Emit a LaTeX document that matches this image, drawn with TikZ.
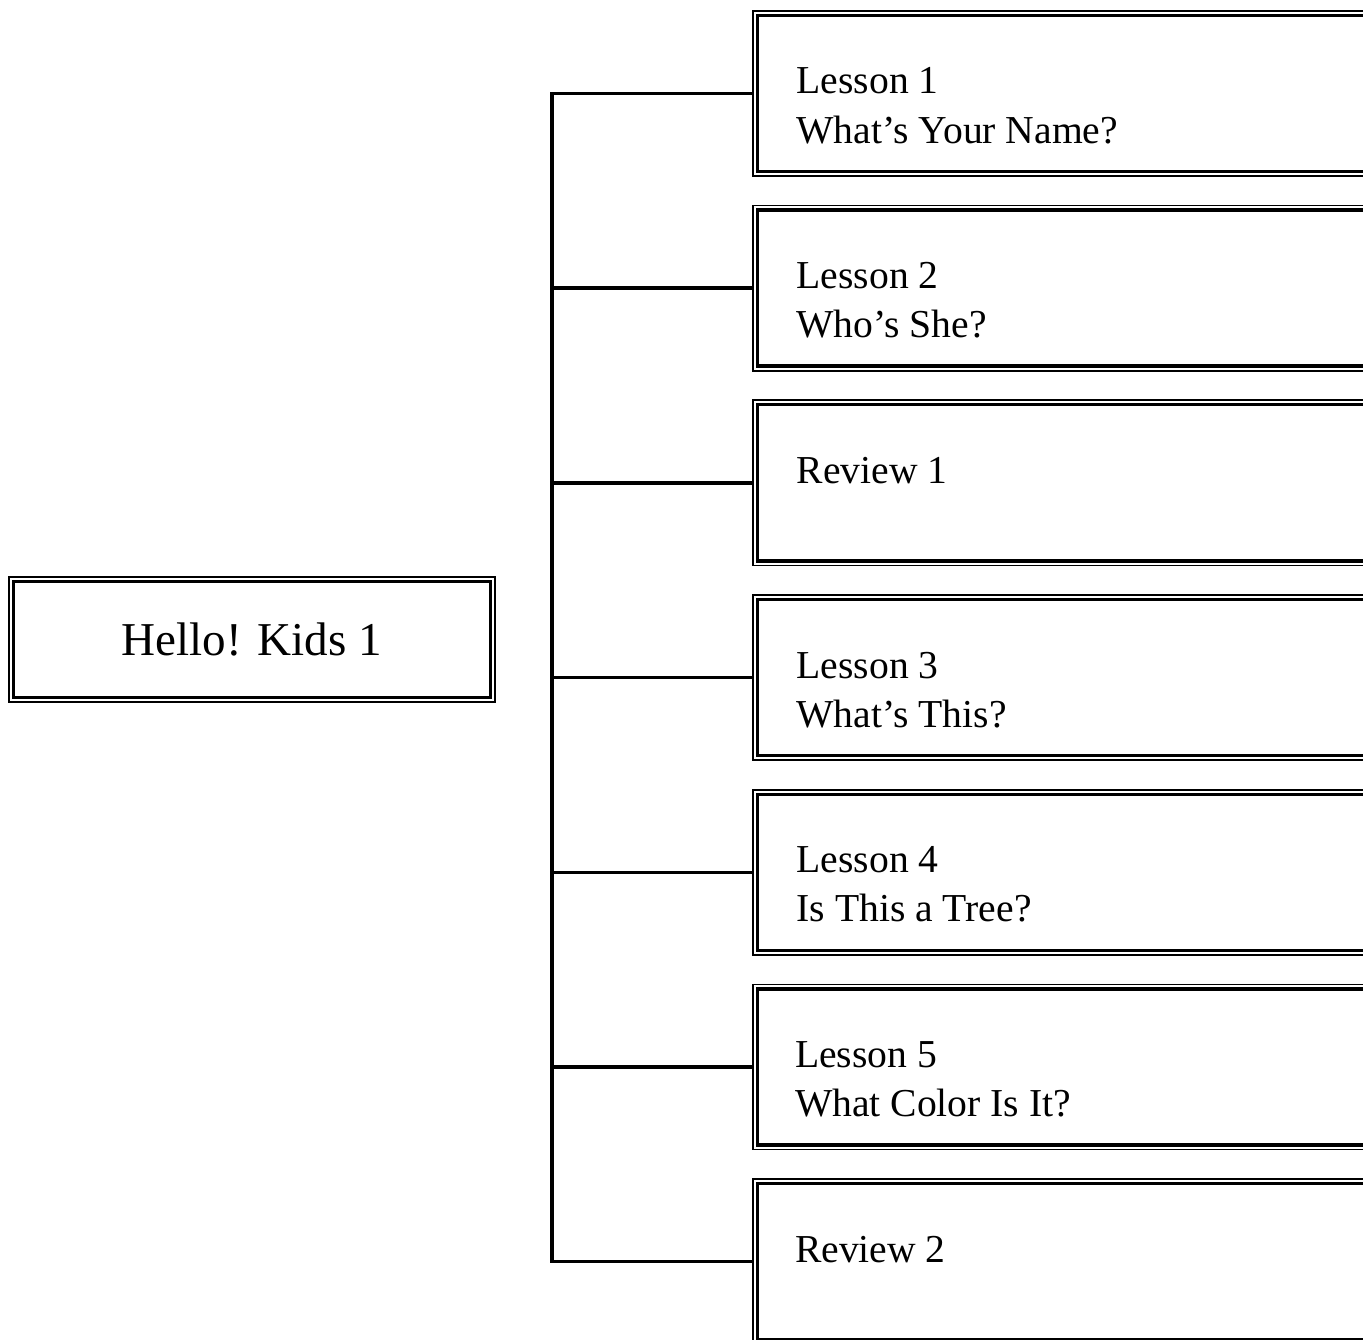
\documentclass[tikz,border=0pt]{standalone}
\usepackage{fontspec}
\setmainfont{Liberation Serif}
\usetikzlibrary{positioning}

\tikzset{
  frame/.style={fill=white, draw, line width=1.1pt, inner sep=0pt, outer sep=0pt,
    preaction={draw, line width=3.6pt},
    preaction={draw=white, line width=2.5pt}},
  rootbox/.style={frame, minimum width=159pt, minimum height=38.7pt,
    font=\fontsize{15.7pt}{19pt}\selectfont},
  unitbox/.style={frame, minimum width=221pt, minimum height=52pt},
  unittext/.style={anchor=base west, inner sep=0pt,
    font=\fontsize{13.2pt}{16.3pt}\selectfont},
  link/.style={line width=1.15pt, shorten >=1.8pt}
}

\begin{document}
\begin{tikzpicture}[x=0.3333pt, y=-0.3333pt, node distance=12.9pt]
\useasboundingbox (0,0) rectangle (1363,1340);
\clip (0,0) rectangle (1363,1340);

\node[rootbox] (root) at (252,639.5) {Hello! Kids 1};

% units
\node[unitbox, anchor=north west] (u1) at (757.4,15.4) {};
\node[unitbox, below=of u1] (u2) {};
\node[unitbox, below=of u2] (u3) {};
\node[unitbox, below=of u3] (u4) {};
\node[unitbox, below=of u4] (u5) {};
\node[unitbox, below=of u5] (u6) {};
\node[unitbox, below=of u6] (u7) {};

\node[unittext] (h1) at ([shift={(38.6,78.6)}]u1.north west) {Lesson 1};
\node[unittext] (s1) at ([shift={(0,49)}]h1.base west) {What’s Your Name?};
\node[unittext] (h2) at ([shift={(38.6,78.6)}]u2.north west) {Lesson 2};
\node[unittext] (s2) at ([shift={(0,49)}]h2.base west) {Who’s She?};
\node[unittext] (h3) at ([shift={(38.6,78.6)}]u3.north west) {Review 1};
\node[unittext] (h4) at ([shift={(38.6,78.6)}]u4.north west) {Lesson 3};
\node[unittext] (s4) at ([shift={(0,49)}]h4.base west) {What’s This?};
\node[unittext] (h5) at ([shift={(38.6,78.6)}]u5.north west) {Lesson 4};
\node[unittext] (s5) at ([shift={(0,49)}]h5.base west) {Is This a Tree?};
\node[unittext] (h6) at ([shift={(37,78.6)}]u6.north west) {Lesson 5};
\node[unittext] (s6) at ([shift={(0,49)}]h6.base west) {What Color Is It?};
\node[unittext] (h7) at ([shift={(37,78.6)}]u7.north west) {Review 2};

% spine and branches
\coordinate (spine) at (552,0);
\draw[link, shorten <=1.8pt] (u1.west) -- (spine |- u1.west) -- (spine |- u7.west) -- (u7.west);
\foreach \u in {u2,u3,u4,u5,u6}
  \draw[link] (spine |- \u.west) -- (\u.west);
\end{tikzpicture}
\end{document}
